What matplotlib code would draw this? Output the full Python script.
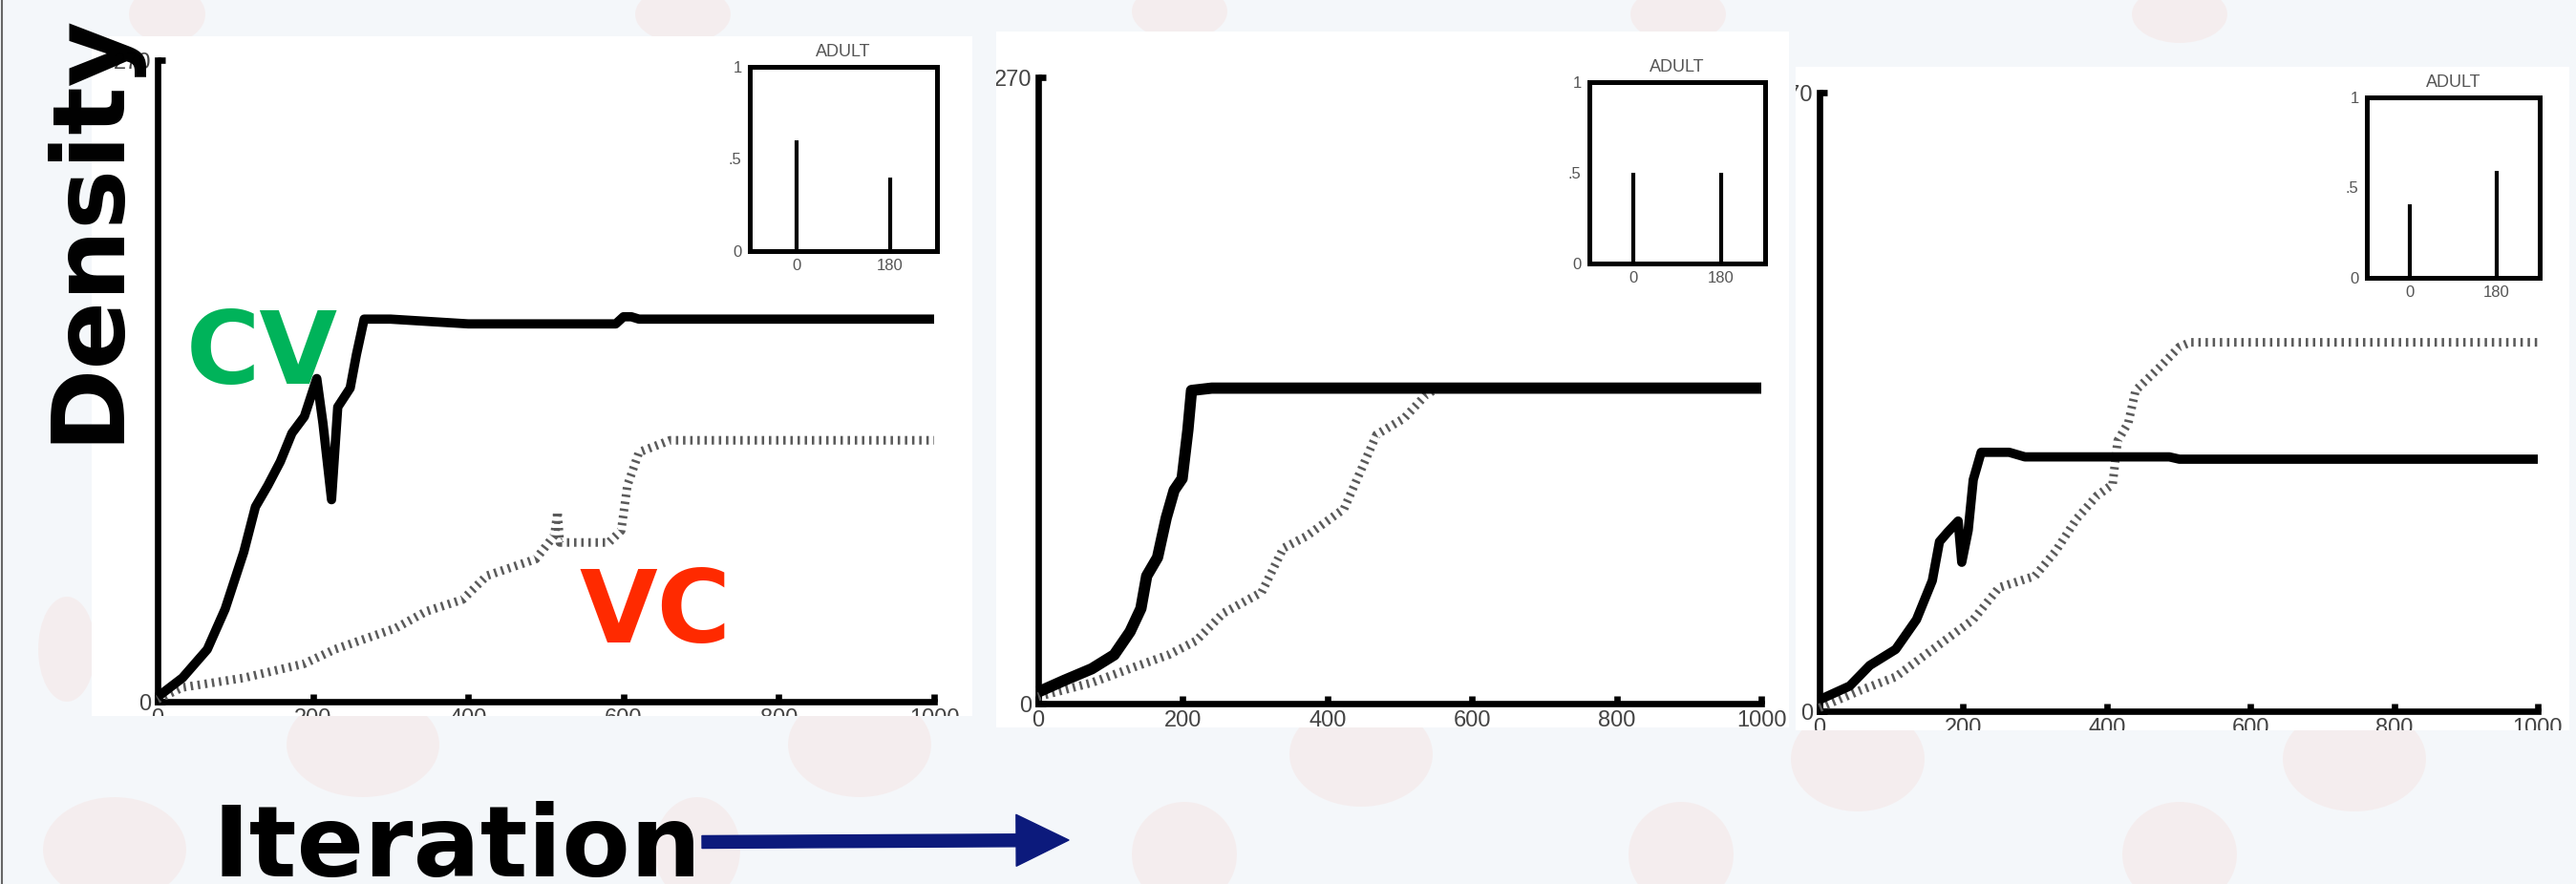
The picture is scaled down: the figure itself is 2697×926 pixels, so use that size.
import matplotlib
matplotlib.use('Agg')
import matplotlib.pyplot as plt
from matplotlib.patches import Rectangle, Ellipse
from matplotlib.transforms import Bbox, TransformedBbox

# ---------------- data ----------------
x_ticks = [0, 200, 400, 600, 800, 1000]
y_ticks = [0, 270]
y_ticklabels = ['0', '270']
inset_angles = [0, 180]
inset_ticks_y = [0, 0.5, 1]
inset_ticklabels_y = ['0', '.5', '1']
inset_title = 'ADULT'

p1_cv_x = [0, 32, 64, 87, 111, 126, 142, 158, 173, 189, 205, 213, 224, 232, 248, 256, 266, 300, 400, 500, 590, 600, 610, 620, 700, 800, 900, 1000]
p1_cv_y = [2, 10, 22, 39, 63, 82, 91, 101, 113, 120, 136, 117, 85, 124, 132, 146, 161, 161, 159, 159, 159, 162, 162, 161, 161, 161, 161, 161]
p1_vc_x = [0, 32, 111, 189, 228, 307, 346, 393, 424, 487, 511, 515, 518, 581, 597, 605, 620, 660, 1000]
p1_vc_y = [1, 6, 10, 16, 22, 31, 38, 43, 53, 60, 70, 80, 67, 67, 72, 91, 105, 110, 110]
p1_adult = [0.60, 0.40]

p2_cv_x = [0, 36, 74, 105, 127, 142, 150, 165, 177, 188, 199, 207, 212, 240, 1000]
p2_cv_y = [5, 10, 15, 21, 31, 41, 55, 63, 80, 92, 97, 118, 135, 136, 136]
p2_vc_x = [0, 74, 135, 180, 218, 256, 309, 339, 370, 423, 468, 506, 536, 552, 1000]
p2_vc_y = [3, 9, 16, 21, 27, 39, 48, 67, 72, 84, 116, 123, 133, 136, 136]
p2_adult = [0.50, 0.50]

p3_cv_x = [0, 42, 70, 106, 135, 157, 167, 178, 193, 198, 207, 214, 225, 264, 286, 487, 501, 1000]
p3_cv_y = [5, 11, 20, 27, 40, 57, 74, 78, 83, 65, 79, 101, 113, 113, 111, 111, 110, 110]
p3_vc_x = [0, 56, 106, 149, 214, 250, 300, 329, 358, 386, 408, 415, 430, 440, 473, 501, 516, 1000]
p3_vc_y = [1.5, 9, 15, 25, 40, 54, 59, 70, 84, 94, 99, 118, 126, 140, 150, 159, 161, 161]
p3_adult = [0.41, 0.59]

# ---------------- layout ----------------
W, H = 2697, 926
fig = plt.figure(figsize=(W / 100, H / 100), dpi=100)
fig.patch.set_facecolor('#f4f7fa')

bg = fig.add_axes([0, 0, 1, 1])
bg.set_xlim(0, W)
bg.set_ylim(H, 0)
bg.axis('off')
bg.set_zorder(-10)

# faint background decoration
blobs = [(380, 780, 160, 110), (900, 780, 150, 110), (1425, 790, 150, 110), (1945, 795, 140, 110),
         (2465, 795, 150, 110), (175, 15, 80, 60), (715, 15, 100, 60), (1235, 12, 100, 60),
         (1757, 15, 100, 60), (2282, 15, 100, 60), (120, 890, 150, 110), (730, 890, 90, 110),
         (1240, 895, 110, 110), (1760, 895, 110, 110), (2282, 895, 120, 110), (70, 680, 60, 110)]
for cx, cy, w, h in blobs:
    bg.add_patch(Ellipse((cx, cy), w, h, facecolor='#f7d9d5', edgecolor='none', alpha=0.3))
bg.plot([2, 2], [0, H], color='#666666', lw=1.5)

white_boxes = [(96, 38, 1018, 750), (1043, 33, 1873, 762), (1880, 70, 2690, 765)]
for x0, y0, x1, y1 in white_boxes:
    bg.add_patch(Rectangle((x0, y0), x1 - x0, y1 - y0, facecolor='white', edgecolor='none'))


def px_axes(x0, y0, x1, y1):
    return fig.add_axes([x0 / W, 1 - y1 / H, (x1 - x0) / W, (y1 - y0) / H])


main_boxes = [(165, 63, 978, 735), (1087, 81, 1844, 737), (1905, 97, 2657, 745)]
inset_boxes = [(785, 70, 981, 263), (1664, 86, 1848, 276), (2478, 102, 2659, 291)]
cv_data = [(p1_cv_x, p1_cv_y), (p2_cv_x, p2_cv_y), (p3_cv_x, p3_cv_y)]
vc_data = [(p1_vc_x, p1_vc_y), (p2_vc_x, p2_vc_y), (p3_vc_x, p3_vc_y)]
adult_data = [p1_adult, p2_adult, p3_adult]
cv_lw = [7, 8.5, 7]

main_axes = []
for i in range(3):
    ax = px_axes(*main_boxes[i])
    ax.set_facecolor('none')
    ax.set_xlim(0, 1000)
    ax.set_ylim(0, 270)
    for s in ['top', 'right']:
        ax.spines[s].set_visible(False)
    for s in ['left', 'bottom']:
        ax.spines[s].set_linewidth(4.8)
        ax.spines[s].set_capstyle('projecting')
    ax.set_xticks(x_ticks)
    ax.set_xticklabels([str(v) for v in x_ticks], family='Liberation Sans')
    ax.set_yticks(y_ticks)
    ax.set_yticklabels(y_ticklabels, family='Liberation Sans')
    ax.tick_params(direction='in', length=6, width=4.8, labelsize=17,
                   labelcolor='#444444', pad=5)
    vx, vy = vc_data[i]
    ax.plot(vx, vy, color='#5a5a5a', lw=6.5, linestyle=(0, (0.28, 0.55)),
            solid_joinstyle='round', clip_on=False, zorder=3)
    cx, cy = cv_data[i]
    ax.plot(cx, cy, color='black', lw=cv_lw[i], solid_joinstyle='round',
            solid_capstyle='butt', clip_on=False, zorder=4)
    main_axes.append(ax)

    ia = px_axes(*inset_boxes[i])
    ia.set_facecolor('white')
    ia.set_xlim(-90, 270)
    ia.set_ylim(0, 1)
    for s in ia.spines.values():
        s.set_linewidth(3.6)
    ia.vlines(inset_angles, 0, adult_data[i], color='black', lw=3)
    ia.set_xticks(inset_angles)
    ia.set_xticklabels([str(a) for a in inset_angles], family='Liberation Sans')
    ia.set_yticks(inset_ticks_y)
    ia.set_yticklabels(inset_ticklabels_y, family='Liberation Sans')
    ia.tick_params(length=0, labelsize=12, labelcolor='#555555', pad=6)
    ia.set_title(inset_title, fontsize=13, color='#555555', pad=8, family='Liberation Sans')

# clip tick labels to the white panels (the source figures are cropped)
fig.canvas.draw()
for ax, (x0, y0, x1, y1) in zip(main_axes, white_boxes):
    cb = TransformedBbox(Bbox.from_extents(x0 / W, 1 - y1 / H, x1 / W, 1 - y0 / H), fig.transFigure)
    for lab in ax.get_xticklabels() + ax.get_yticklabels():
        lab.set_clip_on(True)
        lab.set_clip_box(cb)

# ---------------- annotations ----------------
fig.text(121 / W, 1 - 464 / H, 'Density', rotation=90, rotation_mode='anchor',
         ha='left', va='baseline', fontsize=76, fontweight='bold',
         family='DejaVu Sans', color='black', zorder=20)
fig.text(195 / W, 1 - 402 / H, 'CV', ha='left', va='baseline', fontsize=76,
         fontweight='bold', family='DejaVu Sans', color='#00b35a', zorder=20)
fig.text(606 / W, 1 - 673 / H, 'VC', ha='left', va='baseline', fontsize=76,
         fontweight='bold', family='DejaVu Sans', color='#ff2a00', zorder=20)
fig.text(222 / W, 1 - 918 / H, 'Iteration', ha='left', va='baseline', fontsize=75,
         fontweight='bold', family='DejaVu Sans', color='black', zorder=20)
bg.annotate('', xy=(1119, 880), xytext=(735, 882), xycoords='data',
            arrowprops=dict(arrowstyle='simple,head_length=1.98,head_width=1.94,tail_width=0.47',
                            mutation_scale=20, color='#0c1a7c', shrinkA=0, shrinkB=0))

fig.savefig('out.png', dpi=100, facecolor=fig.get_facecolor())
